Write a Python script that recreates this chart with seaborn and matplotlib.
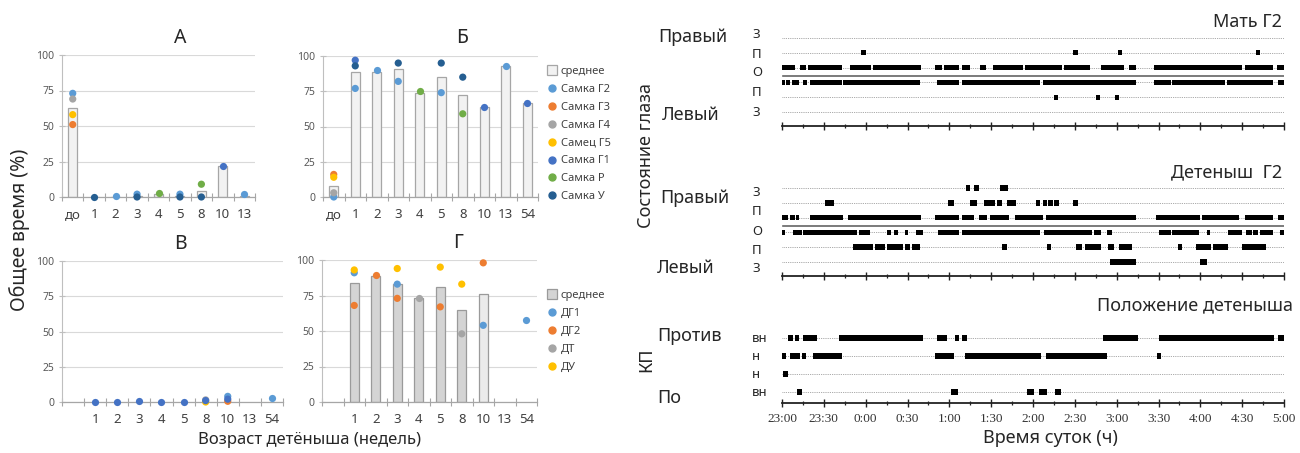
import numpy as np
import pandas as pd
import matplotlib
matplotlib.use('Agg')
import matplotlib.pyplot as plt
from matplotlib.lines import Line2D
from matplotlib.ticker import MultipleLocator
import seaborn as sns

sns.set_theme(style='ticks')
plt.rcParams['font.family'] = ['Noto Sans', 'DejaVu Sans']

W, H = 1300, 453
nan = np.nan

# ---------------- left: % of time per week of age ----------------
cats_a = ['до', '1', '2', '3', '4', '5', '8', '10', '13']
cats_b = ['до', '1', '2', '3', '4', '5', '8', '10', '13', '54']
cats_c = ['', '1', '2', '3', '4', '5', '8', '10', '13', '54']

names_top = ['Самка Г2', 'Самка Г3', 'Самка Г4', 'Самец Г5', 'Самка Г1', 'Самка Р', 'Самка У']
colors_top = ['#5B9BD5', '#ED7D31', '#A5A5A5', '#FFC000', '#4472C4', '#70AD47', '#255E91']
names_bot = ['ДГ1', 'ДГ2', 'ДТ', 'ДУ']
colors_bot = ['#5B9BD5', '#ED7D31', '#A5A5A5', '#FFC000']

mean_a = [63, 0, 0, 1, 2, 1, 4, 22, 1]
points_a = {
    'Самка Г2': [73, nan, 0.5, 2, nan, 2, nan, nan, 2],
    'Самка Г3': [51, nan, nan, nan, nan, nan, nan, nan, nan],
    'Самка Г4': [69, nan, nan, nan, nan, nan, nan, nan, nan],
    'Самец Г5': [58, nan, nan, nan, nan, nan, nan, nan, nan],
    'Самка Г1': [nan, nan, nan, nan, nan, nan, nan, 22, nan],
    'Самка Р': [nan, nan, nan, nan, 3, nan, 9, nan, nan],
    'Самка У': [nan, 0, nan, 0, nan, 0, 0, nan, nan],
}

mean_b = [8, 89, 89, 91, 74, 85, 72, 64, 93, 67]
points_b = {
    'Самка Г2': [0, 77, 90, 82, nan, 74, nan, nan, 93, nan],
    'Самка Г3': [16, nan, nan, nan, nan, nan, nan, nan, nan, nan],
    'Самка Г4': [3, nan, nan, nan, nan, nan, nan, nan, nan, nan],
    'Самец Г5': [14, nan, nan, nan, nan, nan, nan, nan, nan, nan],
    'Самка Г1': [nan, 97, nan, nan, nan, nan, nan, 64, nan, 67],
    'Самка Р': [nan, nan, nan, nan, 75, nan, 59, nan, nan, nan],
    'Самка У': [nan, 93, nan, 95, nan, 95, 85, nan, nan, nan],
}

points_c = {
    'ДГ1': [nan, nan, nan, nan, nan, nan, nan, 4, nan, 3],
    'ДГ2': [nan, nan, nan, nan, nan, nan, nan, 0.5, nan, nan],
    'ДТ': [nan, nan, nan, nan, nan, nan, 1.5, nan, nan, nan],
    'ДУ': [nan, nan, nan, nan, nan, nan, 0, nan, nan, nan],
    'other': [nan, 0, 0, 0.5, 0, 0, 1, 2, nan, nan],
}

mean_d = [nan, 84, 89, 83, 73, 81, 65, 76, nan, nan]
points_d = {
    'ДГ1': [nan, 91, nan, 83, nan, nan, nan, 54, nan, 58],
    'ДГ2': [nan, 68, 89.5, 73, nan, 67, nan, 98, nan, nan],
    'ДТ': [nan, nan, nan, nan, 73, nan, 48, nan, nan, nan],
    'ДУ': [nan, 93, nan, 94, nan, 95, 83, nan, nan, nan],
}

# ---------------- right: ethograms, minutes after 23:00 ----------------
time_labels = ['23:00', '23:30', '0:00', '0:30', '1:00', '1:30', '2:00',
               '2:30', '3:00', '3:30', '4:00', '4:30', '5:00']

mom_r_z = []
mom_r_p = [(57, 60), (209, 212), (241, 244), (340, 343)]
mom_r_o = [(0, 9), (13, 17), (19, 43), (49, 64), (65, 100), (110, 115), (116, 127),
           (129, 135), (142, 146), (151, 173), (174, 201), (202, 221), (229, 245),
           (249, 254), (267, 330), (332, 352), (355, 360)]
mom_l_o = [(0, 2), (3, 6), (7, 12), (15, 18), (20, 43), (44, 99), (111, 127),
           (129, 185), (187, 254), (267, 279), (280, 318), (319, 352), (356, 360)]
mom_l_p = [(195, 198), (225, 228), (239, 242)]
mom_l_z = []

pup_r_z = [(132, 135), (138, 141), (156, 162)]
pup_r_p = [(31, 37), (119, 123), (135, 140), (145, 153), (154, 158), (161, 168),
           (182, 185), (187, 190), (191, 194), (195, 199), (209, 212)]
pup_r_o = [(0, 4), (6, 9), (10, 12), (20, 44), (47, 100), (110, 127), (129, 138),
           (141, 147), (149, 163), (167, 187), (189, 254), (268, 300), (301, 328),
           (332, 352), (356, 360)]
pup_l_o = [(0, 2), (8, 14), (15, 54), (55, 63), (75, 78), (80, 83), (88, 90),
           (96, 101), (112, 127), (129, 185), (188, 222), (224, 229), (233, 237),
           (270, 279), (280, 299), (305, 307), (320, 330), (333, 337), (338, 341),
           (343, 352), (357, 360)]
pup_l_p = [(51, 65), (67, 74), (75, 87), (88, 92), (93, 99), (158, 161), (190, 193),
           (211, 215), (217, 229), (234, 238), (242, 251), (284, 287), (297, 308),
           (309, 320), (330, 347)]
pup_l_z = [(235, 254), (300, 305)]

pos_against_vn = [(4, 8), (9, 12), (15, 25), (41, 101), (111, 118), (124, 127),
                  (129, 133), (230, 255), (270, 353), (356, 360)]
pos_against_n = [(0, 3), (6, 13), (14, 17), (22, 43), (110, 123), (131, 186),
                 (189, 233), (269, 272)]
pos_along_n = [(1, 4)]
pos_along_vn = [(11, 14), (121, 126), (176, 181), (184, 190), (196, 200)]


def fx(px):
    return px / W


def fy(py):
    return 1 - py / H


fig = plt.figure(figsize=(W / 100, H / 100), dpi=100)


def long_points(cats, series):
    rows = []
    for name, vals in series.items():
        for c, v in zip(cats, vals):
            if not np.isnan(v):
                rows.append((c, name, v))
    return pd.DataFrame(rows, columns=['cat', 'series', 'val'])


def panel(rect, cats, means, series, names, colors, face, edge):
    l, b, r, t = rect
    ax = fig.add_axes([fx(l), fy(b), fx(r - l), (b - t) / H])
    if means is not None:
        dfm = pd.DataFrame({'cat': cats, 'val': means}).dropna()
        sns.barplot(data=dfm, x='cat', y='val', order=cats, color=face, saturation=1,
                    width=0.42, edgecolor=edge, linewidth=0.9, errorbar=None, ax=ax)
    dfp = long_points(cats, series)
    sns.stripplot(data=dfp, x='cat', y='val', hue='series', order=cats,
                  hue_order=names, palette=colors, jitter=False, size=5.2,
                  linewidth=0, legend=False, ax=ax, zorder=3, clip_on=False)
    n = len(cats)
    ax.set_xlim(-0.5, n - 0.5)
    ax.set_ylim(0, 100)
    ax.set_yticks([0, 25, 50, 75, 100])
    ax.yaxis.grid(True, color='#D9D9D9', lw=0.8)
    ax.set_axisbelow(True)
    for s in ['top', 'right']:
        ax.spines[s].set_visible(False)
    ax.spines['left'].set_color('#BFBFBF')
    ax.spines['left'].set_linewidth(0.8)
    ax.spines['bottom'].set_color('#A6A6A6')
    ax.spines['bottom'].set_linewidth(0.9)
    ax.set_xticks(np.arange(-0.5, n, 1), minor=True)
    ax.tick_params(axis='x', which='major', length=0, labelsize=9.5,
                   labelcolor='#404040', pad=8)
    ax.tick_params(axis='x', which='minor', length=6, width=0.8,
                   direction='inout', color='#A6A6A6')
    ax.tick_params(axis='y', which='major', length=5, width=0.8, direction='inout',
                   color='#BFBFBF', labelsize=7.5, labelcolor='#595959', pad=3)
    ax.set_xlabel('')
    ax.set_ylabel('')
    return ax


panel((62, 197, 255, 55), cats_a, mean_a, points_a, names_top, colors_top, '#F2F2F2', '#A6A6A6')
panel((323, 197, 538, 56), cats_b, mean_b, points_b, names_top, colors_top, '#F2F2F2', '#A6A6A6')
panel((62, 402, 283, 261), cats_c, None, points_c, names_bot + ['other'],
      colors_bot + ['#4472C4'], '#D9D9D9', '#999999')
ax_d = panel((322, 402, 537, 260), cats_c, mean_d, points_d,
             names_bot, colors_bot, '#D4D4D4', '#9A9A9A')
# the last mean bar in Г is drawn lighter
for p in ax_d.patches:
    if abs(p.get_x() + p.get_width() / 2 - cats_c.index('10')) < 0.1:
        p.set_facecolor('#EBEBEB')

fig.text(fx(180), fy(38), 'А', ha='center', va='center', fontsize=14)
fig.text(fx(462), fy(38), 'Б', ha='center', va='center', fontsize=14)
fig.text(fx(180), fy(244), 'В', ha='center', va='center', fontsize=14)
fig.text(fx(458), fy(243), 'Г', ha='center', va='center', fontsize=14)
fig.text(fx(20), fy(230), 'Общее время (%)', rotation=90, ha='center', va='center', fontsize=14)
fig.text(fx(310), fy(440), 'Возраст детёныша (недель)', ha='center', va='center', fontsize=12)

h_top = [Line2D([], [], marker='s', ls='', markersize=6.5, markerfacecolor='#F2F2F2',
                markeredgecolor='#A6A6A6', markeredgewidth=0.9)]
h_top += [Line2D([], [], marker='o', ls='', markersize=5, color=c) for c in colors_top]
fig.legend(h_top, ['среднее'] + names_top, loc='upper left',
           bbox_to_anchor=(fx(548), fy(66)), frameon=False, fontsize=8,
           handlelength=0.8, handletextpad=0.35, labelspacing=0.62,
           borderpad=0, borderaxespad=0, labelcolor='#404040')
h_bot = [Line2D([], [], marker='s', ls='', markersize=6.5, markerfacecolor='#D4D4D4',
                markeredgecolor='#9A9A9A', markeredgewidth=0.9)]
h_bot += [Line2D([], [], marker='o', ls='', markersize=5, color=c) for c in colors_bot]
fig.legend(h_bot, ['среднее'] + names_bot, loc='upper left',
           bbox_to_anchor=(fx(548), fy(290)), frameon=False, fontsize=8,
           handlelength=0.8, handletextpad=0.35, labelspacing=0.62,
           borderpad=0, borderaxespad=0, labelcolor='#404040')


# ---------------- right ethograms ----------------
def eth_axes(top_row_px, step_px, spine_px, rows, bar_px, labels=False, sep=False):
    n = len(rows)
    bottom_row_px = top_row_px + (n - 1) * step_px
    top_px = top_row_px - step_px * 0.6
    ax = fig.add_axes([fx(782), fy(spine_px), fx(502), (spine_px - top_px) / H])
    ax.set_xlim(0, 360)
    ax.set_ylim(1 - (spine_px - bottom_row_px) / step_px, n + 0.6)
    bar_h = bar_px / step_px
    for i, segs in enumerate(rows):
        y = n - i
        ax.plot([0, 360], [y, y], color='#8c8c8c', lw=0.6, ls=(0, (1, 1.2)), zorder=1)
        if segs:
            ax.broken_barh([(s, e - s) for s, e in segs], (y - bar_h / 2, bar_h),
                           facecolors='black', edgecolor='none', zorder=2)
    if sep:
        for yy in (3.52, 3.4):
            ax.plot([0, 360], [yy, yy], color='#7a7a7a', lw=0.7, zorder=1)
    for s in ['top', 'right', 'left']:
        ax.spines[s].set_visible(False)
    ax.spines['bottom'].set_color('#222222')
    ax.spines['bottom'].set_linewidth(1.3)
    ax.set_yticks([])
    ax.xaxis.set_major_locator(MultipleLocator(30))
    ax.xaxis.set_minor_locator(MultipleLocator(15))
    ax.tick_params(axis='x', which='major', direction='inout', length=6, width=1,
                   color='#222222', labelbottom=labels, pad=4)
    ax.tick_params(axis='x', which='minor', direction='inout', length=3.5, width=0.9,
                   color='#222222')
    if labels:
        ax.set_xticks(np.arange(0, 361, 30))
        ax.set_xticklabels(time_labels, fontfamily='Liberation Serif', fontsize=9.5,
                           color='#333333')
    return ax


eth_axes(37.7, 14.9, 126, [mom_r_z, mom_r_p, mom_r_o, mom_l_o, mom_l_p, mom_l_z], 5.5, sep=True)
eth_axes(188, 14.8, 276, [pup_r_z, pup_r_p, pup_r_o, pup_l_o, pup_l_p, pup_l_z], 5.5, sep=True)
eth_axes(338, 18, 403, [pos_against_vn, pos_against_n, pos_along_n, pos_along_vn], 5.5, labels=True)

# row letters
for s, py in zip(['З', 'П', 'О', 'П', 'З'], [35, 55, 73, 93, 113]):
    fig.text(fx(752), fy(py), s, ha='left', va='center', fontsize=9.5)
for s, py in zip(['З', 'П', 'О', 'П', 'З'], [192, 212, 232, 250, 268]):
    fig.text(fx(752), fy(py), s, ha='left', va='center', fontsize=9.5)
for s, py in zip(['вн', 'н', 'н', 'вн'], [338, 356, 374, 392]):
    fig.text(fx(752), fy(py), s, ha='left', va='center', fontsize=9.5)

fig.text(fx(658), fy(37), 'Правый', ha='left', va='center', fontsize=13)
fig.text(fx(662), fy(115), 'Левый', ha='left', va='center', fontsize=13)
fig.text(fx(660), fy(198), 'Правый', ha='left', va='center', fontsize=13)
fig.text(fx(657), fy(268), 'Левый', ha='left', va='center', fontsize=13)
fig.text(fx(657), fy(336), 'Против', ha='left', va='center', fontsize=13)
fig.text(fx(657), fy(398), 'По', ha='left', va='center', fontsize=13)
fig.text(fx(646), fy(155), 'Состояние глаза', rotation=90, ha='center', va='center', fontsize=13)
fig.text(fx(646), fy(360), 'КП', rotation=90, ha='center', va='center', fontsize=13)
fig.text(fx(1282), fy(22), 'Мать Г2', ha='right', va='center', fontsize=13)
fig.text(fx(1282), fy(172), 'Детеныш  Г2', ha='right', va='center', fontsize=13)
fig.text(fx(1293), fy(305), 'Положение детеныша', ha='right', va='center', fontsize=13)
fig.text(fx(1050), fy(438), 'Время суток (ч)', ha='center', va='center', fontsize=13)

fig.savefig('out.png', dpi=100)
